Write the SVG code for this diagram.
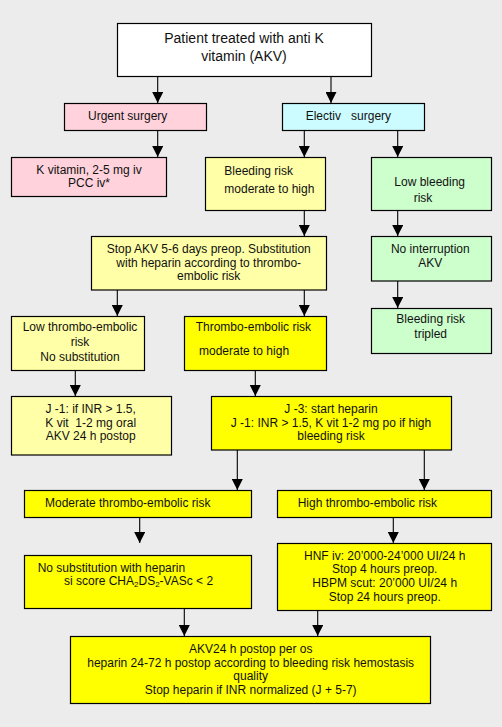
<svg xmlns="http://www.w3.org/2000/svg" width="502" height="727" viewBox="0 0 502 727">
<defs>
<marker id="ah" markerUnits="userSpaceOnUse" markerWidth="12" markerHeight="11" refX="11" refY="5.5" orient="auto" viewBox="0 0 12 11">
<path d="M0,0 L11,5.5 L0,11 Z" fill="#000"/>
</marker>
<style>
.b{stroke:#000;stroke-width:1.2}
.w{fill:#fff}
.pk{fill:#ffd2dc}
.cy{fill:#ccfcff}
.ly{fill:#ffffa8}
.gr{fill:#ccffcc}
.yl{fill:#ffff00}
text{font-family:"Liberation Sans",Arial,sans-serif;font-size:12px;fill:#111}
.c{text-anchor:middle}
.t{font-size:14px}
.con line{stroke:#000;stroke-width:1.1;marker-end:url(#ah)}
</style>
</defs>
<rect width="502" height="727" fill="#ececec"/>
<g class="con">
<line x1="157.7" y1="76" x2="157.7" y2="103"/>
<line x1="331" y1="76" x2="331" y2="103"/>
<line x1="157.7" y1="130" x2="157.7" y2="157"/>
<line x1="304.3" y1="130" x2="304.3" y2="157"/>
<line x1="397.7" y1="130" x2="397.7" y2="157"/>
<line x1="304.3" y1="210" x2="304.3" y2="236"/>
<line x1="397.7" y1="210" x2="397.7" y2="236"/>
<line x1="117.3" y1="290" x2="117.3" y2="316"/>
<line x1="304.3" y1="290" x2="304.3" y2="316"/>
<line x1="397.7" y1="281" x2="397.7" y2="308"/>
<line x1="75.3" y1="370" x2="75.3" y2="396"/>
<line x1="255.3" y1="370" x2="255.3" y2="396"/>
<line x1="237.3" y1="450" x2="237.3" y2="490"/>
<line x1="424.3" y1="450" x2="424.3" y2="490"/>
<line x1="139.7" y1="517" x2="139.7" y2="543"/>
<line x1="393.3" y1="517" x2="393.3" y2="543"/>
<line x1="184.3" y1="608" x2="184.3" y2="636"/>
<line x1="317.7" y1="611" x2="317.7" y2="636"/>
</g>
<g id="n-patient">
<rect class="b w" x="117.5" y="23.5" width="254" height="53"/>
<text class="c t" x="244" y="43">Patient treated with anti K</text>
<text class="c t" x="244" y="61">vitamin (AKV)</text>
</g>
<g id="n-urgent">
<rect class="b pk" x="64.5" y="103.5" width="142" height="27"/>
<text x="88" y="120">Urgent surgery</text>
</g>
<g id="n-electiv">
<rect class="b cy" x="282.5" y="103.5" width="142" height="27"/>
<text x="305.7" y="120" xml:space="preserve">Electiv   surgery</text>
</g>
<g id="n-kvit">
<rect class="b pk" x="11.5" y="157.5" width="155" height="39"/>
<text class="c" x="89" y="173.8">K vitamin, 2-5 mg iv</text>
<text class="c" x="89" y="186.5">PCC iv*</text>
</g>
<g id="n-bleedmod">
<rect class="b ly" x="205.5" y="157.5" width="120" height="53"/>
<text x="224.3" y="175.3">Bleeding risk</text>
<text x="224.3" y="192.7">moderate to high</text>
</g>
<g id="n-lowbleed">
<rect class="b gr" x="371.5" y="157.5" width="120" height="53"/>
<text x="394.3" y="186">Low bleeding</text>
<text x="413.7" y="201.7">risk</text>
</g>
<g id="n-stopakv">
<rect class="b ly" x="91.5" y="236.5" width="235" height="53.5"/>
<text class="c" x="208.7" y="253.3">Stop AKV 5-6 days preop. Substitution</text>
<text class="c" x="208.7" y="266.7">with heparin according to thrombo-</text>
<text class="c" x="208.7" y="280">embolic risk</text>
</g>
<g id="n-nointerrupt">
<rect class="b gr" x="371.5" y="236.5" width="120" height="44.5"/>
<text class="c" x="430.3" y="253.3">No interruption</text>
<text class="c" x="430.3" y="266.7">AKV</text>
</g>
<g id="n-tripled">
<rect class="b gr" x="371.5" y="308.5" width="120" height="45"/>
<text class="c" x="430.7" y="323.3">Bleeding risk</text>
<text class="c" x="430.7" y="338.3">tripled</text>
</g>
<g id="n-lowthrombo">
<rect class="b ly" x="11.5" y="316.5" width="133" height="54"/>
<text class="c" x="80" y="331.3">Low thrombo-embolic</text>
<text class="c" x="80" y="345.7">risk</text>
<text class="c" x="80" y="361">No substitution</text>
</g>
<g id="n-thrombomod">
<rect class="b yl" x="184.5" y="316.5" width="142" height="54"/>
<text x="195.7" y="331.3">Thrombo-embolic risk</text>
<text x="199" y="354.7">moderate to high</text>
</g>
<g id="n-j1">
<rect class="b ly" x="11.5" y="396.5" width="160" height="58.5"/>
<text class="c" x="90.7" y="413.3">J -1: if INR &gt; 1.5,</text>
<text class="c" x="90.7" y="426.7" xml:space="preserve">K vit  1-2 mg oral</text>
<text class="c" x="90.7" y="440">AKV 24 h postop</text>
</g>
<g id="n-j3">
<rect class="b yl" x="211.5" y="396.5" width="240" height="53.5"/>
<text class="c" x="331" y="413.3">J -3: start heparin</text>
<text class="c" x="331" y="426.7">J -1: INR &gt; 1.5, K vit 1-2 mg po if high</text>
<text class="c" x="331" y="440">bleeding risk</text>
</g>
<g id="n-modthrombo">
<rect class="b yl" x="24.5" y="490.5" width="227" height="27"/>
<text x="45" y="506.5">Moderate thrombo-embolic risk</text>
</g>
<g id="n-highthrombo">
<rect class="b yl" x="277.5" y="490.5" width="214" height="27"/>
<text x="297.7" y="506.5">High thrombo-embolic risk</text>
</g>
<g id="n-nosubst">
<rect class="b yl" x="24.5" y="555.5" width="227" height="53"/>
<text x="37.7" y="572.3">No substitution with heparin</text>
<text x="64" y="585.3">si score CHA<tspan font-size="8" baseline-shift="-2">2</tspan>DS<tspan font-size="8" baseline-shift="-2">2</tspan>-VASc &lt; 2</text>
</g>
<g id="n-hnf">
<rect class="b yl" x="277.5" y="543.5" width="214" height="67"/>
<text class="c" x="384.7" y="560">HNF iv: 20’000-24’000 UI/24 h</text>
<text class="c" x="384.7" y="573.3">Stop 4 hours preop.</text>
<text class="c" x="384.7" y="587.3">HBPM scut: 20’000 UI/24 h</text>
<text class="c" x="384.7" y="600.7">Stop 24 hours preop.</text>
</g>
<g id="n-akv24">
<rect class="b yl" x="70.5" y="636.5" width="360" height="67"/>
<text class="c" x="250.7" y="653.3">AKV24 h postop per os</text>
<text class="c" x="250.7" y="666.7">heparin 24-72 h postop according to bleeding risk hemostasis</text>
<text class="c" x="250.7" y="680">quality</text>
<text class="c" x="250.7" y="694">Stop heparin if INR normalized (J + 5-7)</text>
</g>
</svg>
